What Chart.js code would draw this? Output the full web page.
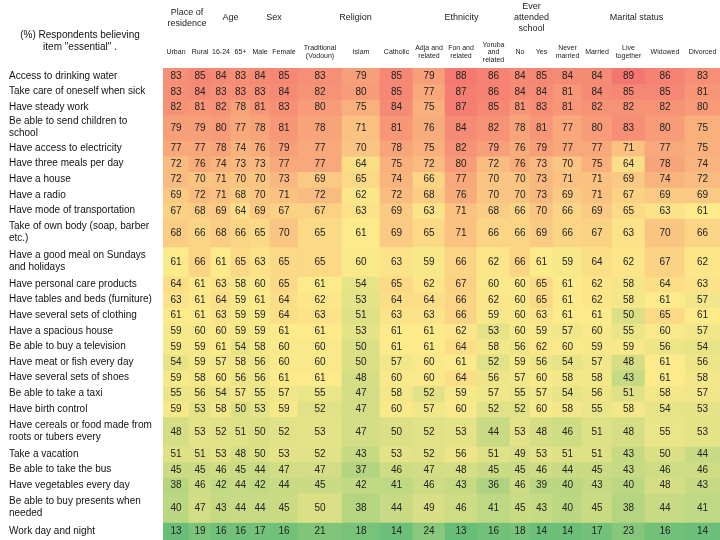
<!DOCTYPE html>
<html>
<head>
<meta charset="utf-8">
<script src="https://cdn.jsdelivr.net/npm/chart.js@4.4.1/dist/chart.umd.min.js"></script>
<style>
  html, body { margin: 0; padding: 0; background: #fff; }
  canvas { display: block; }
</style>
</head>
<body>
<canvas id="heat" width="720" height="540"></canvas>
<script>
'use strict';

/* textos */
const titleLines = ['(%) Respondents believing', 'item "essential" .'];
const groupLabels = [['Place of', 'residence'], 'Age', 'Sex', 'Religion', 'Ethnicity', ['Ever', 'attended', 'school'], 'Marital status'];
const groupSpans = [2, 2, 2, 3, 3, 2, 5];
const colLabels = ['Urban', 'Rural', '16-24', '65+', 'Male', 'Female', ['Traditional', '(Vodoun)'], 'Islam', 'Catholic',
  ['Adja and', 'related'], ['Fon and', 'related'], ['Yoruba', 'and', 'related'], 'No', 'Yes',
  ['Never', 'married'], 'Married', ['Live', 'together'], 'Widowed', 'Divorced'];
const rowLabels = ['Access to drinking water', 'Take care of oneself when sick', 'Have steady work',
  ['Be able to send children to', 'school'], 'Have access to electricity', 'Have three meals per day',
  'Have a house', 'Have a radio', 'Have mode of transportation', ['Take of own body (soap, barber', 'etc.)'],
  ['Have a good meal on Sundays', 'and holidays'], 'Have personal care products', 'Have tables and beds (furniture)',
  'Have several sets of clothing', 'Have a spacious house', 'Be able to buy a television', 'Have meat or fish every day',
  'Have several sets of shoes', 'Be able to take a taxi', 'Have birth control', ['Have cereals or food made from', 'roots or tubers every'],
  'Take a vacation', 'Be able to take the bus', 'Have vegetables every day', ['Be able to buy presents when', 'needed'],
  'Work day and night'];

/* valores (%), una fila por ítem, columnas en el orden de colLabels */
const drinkingWater = [83, 85, 84, 83, 84, 85, 83, 79, 85, 79, 88, 86, 84, 85, 84, 84, 89, 86, 83];
const careWhenSick  = [83, 84, 83, 83, 83, 84, 82, 80, 85, 77, 87, 86, 84, 84, 81, 84, 85, 85, 81];
const steadyWork    = [82, 81, 82, 78, 81, 83, 80, 75, 84, 75, 87, 85, 81, 83, 81, 82, 82, 82, 80];
const childSchool   = [79, 79, 80, 77, 78, 81, 78, 71, 81, 76, 84, 82, 78, 81, 77, 80, 83, 80, 75];
const electricity   = [77, 77, 78, 74, 76, 79, 77, 70, 78, 75, 82, 79, 76, 79, 77, 77, 71, 77, 75];
const threeMeals    = [72, 76, 74, 73, 73, 77, 77, 64, 75, 72, 80, 72, 76, 73, 70, 75, 64, 78, 74];
const aHouse        = [72, 70, 71, 70, 70, 73, 69, 65, 74, 66, 77, 70, 70, 73, 71, 71, 69, 74, 72];
const aRadio        = [69, 72, 71, 68, 70, 71, 72, 62, 72, 68, 76, 70, 70, 73, 69, 71, 67, 69, 69];
const transport     = [67, 68, 69, 64, 69, 67, 67, 63, 69, 63, 71, 68, 66, 70, 66, 69, 65, 63, 61];
const ownBody       = [68, 66, 68, 66, 65, 70, 65, 61, 69, 65, 71, 66, 66, 69, 66, 67, 63, 70, 66];
const sundayMeal    = [61, 66, 61, 65, 63, 65, 65, 60, 63, 59, 66, 62, 66, 61, 59, 64, 62, 67, 62];
const personalCare  = [64, 61, 63, 58, 60, 65, 61, 54, 65, 62, 67, 60, 60, 65, 61, 62, 58, 64, 63];
const furniture     = [63, 61, 64, 59, 61, 64, 62, 53, 64, 64, 66, 62, 60, 65, 61, 62, 58, 61, 57];
const clothing      = [61, 61, 63, 59, 59, 64, 63, 51, 63, 63, 66, 59, 60, 63, 61, 61, 50, 65, 61];
const spaciousHouse = [59, 60, 60, 59, 59, 61, 61, 53, 61, 61, 62, 53, 60, 59, 57, 60, 55, 60, 57];
const television    = [59, 59, 61, 54, 58, 60, 60, 50, 61, 61, 64, 58, 56, 62, 60, 59, 59, 56, 54];
const meatOrFish    = [54, 59, 57, 58, 56, 60, 60, 50, 57, 60, 61, 52, 59, 56, 54, 57, 48, 61, 56];
const shoes         = [59, 58, 60, 56, 56, 61, 61, 48, 60, 60, 64, 56, 57, 60, 58, 58, 43, 61, 58];
const taxi          = [55, 56, 54, 57, 55, 57, 55, 47, 58, 52, 59, 57, 55, 57, 54, 56, 51, 58, 57];
const birthControl  = [59, 53, 58, 50, 53, 59, 52, 47, 60, 57, 60, 52, 52, 60, 58, 55, 58, 54, 53];
const cereals       = [48, 53, 52, 51, 50, 52, 53, 47, 50, 52, 53, 44, 53, 48, 46, 51, 48, 55, 53];
const vacation      = [51, 51, 53, 48, 50, 53, 52, 43, 53, 52, 56, 51, 49, 53, 51, 51, 43, 50, 44];
const takeBus       = [45, 45, 46, 45, 44, 47, 47, 37, 46, 47, 48, 45, 45, 46, 44, 45, 43, 46, 46];
const vegetables    = [38, 46, 42, 44, 42, 44, 45, 42, 41, 46, 43, 36, 46, 39, 40, 43, 40, 48, 43];
const presents      = [40, 47, 43, 44, 44, 45, 50, 38, 44, 49, 46, 41, 45, 43, 40, 45, 38, 44, 41];
const dayAndNight   = [13, 19, 16, 16, 17, 16, 21, 18, 14, 24, 13, 16, 18, 14, 14, 17, 23, 16, 14];

const values = [drinkingWater, careWhenSick, steadyWork, childSchool, electricity, threeMeals, aHouse, aRadio,
  transport, ownBody, sundayMeal, personalCare, furniture, clothing, spaciousHouse, television, meatOrFish,
  shoes, taxi, birthControl, cereals, vacation, takeBus, vegetables, presents, dayAndNight];

/* rejilla (anchos de columna y altos de fila, en px de diseño) */
const colWidths = [26, 22, 20, 19, 20, 28, 44, 38, 33, 32, 32, 33, 20, 23, 29, 30, 33, 40, 35];
const rowHeights = [15.6, 15.6, 15.6, 25.4, 15.6, 15.6, 15.6, 15.6, 15.6, 28.4, 29.6, 15.6, 15.6, 15.6, 15.6,
  15.6, 15.6, 15.6, 15.6, 15.6, 29.4, 15.6, 15.6, 15.6, 29.4, 17.8];

const cumsum = a => a.reduce((acc, v) => (acc.push(acc[acc.length - 1] + v), acc), [0]);
const colEdges = cumsum(colWidths);
const rowEdges = cumsum(rowHeights);
const colCenters = colWidths.map((w, j) => colEdges[j] + w / 2);
const rowCenters = rowHeights.map((h, i) => rowEdges[i] + h / 2);
const spanEdges = cumsum(groupSpans);
const groupCenters = groupSpans.map((s, g) => (colEdges[spanEdges[g]] + colEdges[spanEdges[g + 1]]) / 2);
const W = colEdges[colEdges.length - 1], H = rowEdges[rowEdges.length - 1];

/* escala de color tipo Excel: verde - amarillo (mediana) - rojo, algo lavada */
const flat = values.flat().slice().sort((a, b) => a - b);
const lo = flat[0], hi = flat[flat.length - 1];
const mid = (() => { const p = (flat.length - 1) * 0.5, k = Math.floor(p); return flat[k] + (flat[Math.min(k + 1, flat.length - 1)] - flat[k]) * (p - k); })();
const GREEN = [104, 190, 120], YELLOW = [253, 234, 138], RED = [244, 118, 112];
const mix = (a, b, t) => `rgb(${a.map((c, k) => Math.round(c + (b[k] - c) * t)).join(',')})`;
const cellColor = v => v <= mid ? mix(GREEN, YELLOW, (v - lo) / (mid - lo)) : mix(YELLOW, RED, (v - mid) / (hi - mid));

const FONT = '"Liberation Sans", Arial, sans-serif';

/* números dentro de las celdas + título */
const cellText = {
  id: 'cellText',
  afterDatasetsDraw(chart) {
    const { ctx } = chart;
    ctx.save();
    ctx.font = '10px ' + FONT;
    ctx.fillStyle = '#222';
    ctx.textAlign = 'center';
    ctx.textBaseline = 'middle';
    chart.data.datasets.forEach((ds, i) => {
      chart.getDatasetMeta(i).data.forEach((bar, j) => {
        const { x, base, y } = bar.getProps(['x', 'base', 'y'], true);
        ctx.fillText(String(values[i][j]), (x + base) / 2 - 0.3, y + 0.5);
      });
    });
    ctx.fillStyle = '#111';
    titleLines.forEach((t, k) => ctx.fillText(t, 80, 35 + k * 12));
    ctx.restore();
  },
};

const fixedTicks = centers => s => { s.ticks = centers.map(value => ({ value })); };
const noGrid = { display: false, drawTicks: false, offset: false };
const fitX = h => s => { s.height = h; s.paddingLeft = 0; s.paddingRight = 0; };

new Chart(document.getElementById('heat'), {
  type: 'bar',
  data: {
    datasets: values.map((row, i) => ({
      label: Array.isArray(rowLabels[i]) ? rowLabels[i].join(' ') : rowLabels[i],
      data: row.map((v, j) => ({ x: [colEdges[j], colEdges[j + 1] + 0.6], y: rowCenters[i] })),
      backgroundColor: row.map(cellColor),
      borderWidth: 0,
      borderSkipped: false,
      barThickness: rowHeights[i] + 0.6,
      grouped: false,
    })),
  },
  options: {
    indexAxis: 'y',
    responsive: false,
    animation: false,
    events: [],
    layout: { padding: { left: 9, top: 0, right: 0, bottom: 0 } },
    plugins: { legend: { display: false }, tooltip: { enabled: false }, title: { display: false } },
    scales: {
      x: {
        type: 'linear', position: 'top', min: 0, max: W, weight: 0, offset: false,
        grid: noGrid, border: { display: false },
        afterBuildTicks: fixedTicks(colCenters),
        afterFit: fitX(32),
        ticks: { autoSkip: false, maxRotation: 0, minRotation: 0, crossAlign: 'center', padding: 8,
          color: '#222', font: { family: FONT, size: 7, lineHeight: 1.1 }, callback: (v, i) => colLabels[i] },
      },
      xg: {
        type: 'linear', position: 'top', axis: 'x', min: 0, max: W, weight: 1, offset: false,
        grid: noGrid, border: { display: false },
        afterBuildTicks: fixedTicks(groupCenters),
        afterFit: fitX(36),
        ticks: { autoSkip: false, maxRotation: 0, minRotation: 0, crossAlign: 'center', padding: 7,
          color: '#222', font: { family: FONT, size: 9, lineHeight: 1.25 }, callback: (v, i) => groupLabels[i] },
      },
      y: {
        type: 'linear', position: 'left', min: 0, max: H, reverse: true, offset: false,
        grid: noGrid, border: { display: false },
        afterBuildTicks: fixedTicks(rowCenters),
        afterFit: s => { s.width = 154; s.paddingTop = 0; s.paddingBottom = 0; },
        ticks: { autoSkip: false, crossAlign: 'far', padding: 0, color: '#111',
          font: { family: FONT, size: 10, lineHeight: 1.2 }, callback: (v, i) => rowLabels[i] },
      },
    },
  },
  plugins: [cellText],
});
</script>
</body>
</html>
